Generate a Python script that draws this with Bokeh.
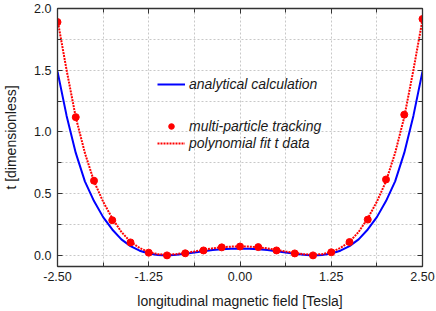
from bokeh.plotting import figure
from bokeh.models import (FixedTicker, LinearAxis, Legend, LegendItem,
                          NumeralTickFormatter, Range1d)
from bokeh.embed import file_html
from bokeh.resources import INLINE

# ---------------- data ----------------
# multi-particle tracking points
x_track = [-2.5, -2.25, -2.0, -1.75, -1.5, -1.25, -1.0, -0.75, -0.5, -0.25, 0.0,
           0.25, 0.5, 0.75, 1.0, 1.25, 1.5, 1.75, 2.0, 2.25, 2.5]
t_track = [1.89, 1.12, 0.605, 0.285, 0.105, 0.022, 0.0, 0.017, 0.04, 0.065, 0.072,
           0.067, 0.04, 0.016, 0.0, 0.025, 0.108, 0.29, 0.615, 1.14, 1.915]

# sampled curves
x_curve = [-2.5, -2.375, -2.25, -2.125, -2.0, -1.875, -1.75, -1.625, -1.5, -1.375,
           -1.25, -1.125, -1.0, -0.875, -0.75, -0.625, -0.5, -0.375, -0.25, -0.125,
           0.0, 0.125, 0.25, 0.375, 0.5, 0.625, 0.75, 0.875, 1.0, 1.125,
           1.25, 1.375, 1.5, 1.625, 1.75, 1.875, 2.0, 2.125, 2.25, 2.375, 2.5]
t_analytic = [1.49, 1.13, 0.83, 0.60, 0.44, 0.31, 0.21, 0.13, 0.075, 0.038,
              0.015, 0.004, 0.0, 0.005, 0.014, 0.024, 0.034, 0.043, 0.049, 0.053,
              0.054, 0.053, 0.049, 0.043, 0.034, 0.024, 0.014, 0.005, 0.0, 0.004,
              0.015, 0.038, 0.075, 0.13, 0.21, 0.31, 0.44, 0.60, 0.83, 1.13, 1.49]
t_fit = [1.91, 1.50, 1.12, 0.83, 0.60, 0.435, 0.30, 0.19, 0.11, 0.06,
         0.027, 0.01, 0.006, 0.01, 0.02, 0.032, 0.045, 0.057, 0.066, 0.071,
         0.072, 0.071, 0.066, 0.057, 0.045, 0.032, 0.02, 0.01, 0.006, 0.01,
         0.027, 0.06, 0.11, 0.19, 0.30, 0.435, 0.60, 0.83, 1.12, 1.50, 1.91]

# ticks
x_major = [-2.5, -1.25, 0.0, 1.25, 2.5]
x_minor = [-1.875, -0.625, 0.625, 1.875]
y_major = [0.0, 0.5, 1.0, 1.5, 2.0]
y_minor = [0.25, 0.75, 1.25, 1.75]

FONT = "Liberation Sans"

p = figure(width=436, height=311, output_backend="svg", toolbar_location=None,
           x_range=Range1d(-2.5, 2.5), y_range=Range1d(-0.09, 2.0),
           min_border_left=54, min_border_right=14, min_border_top=8,
           min_border_bottom=44, background_fill_color="white",
           border_fill_color="white")
p.outline_line_color = "#222222"
p.outline_line_width = 1

xt = FixedTicker(ticks=x_major, minor_ticks=x_minor)
yt = FixedTicker(ticks=y_major, minor_ticks=y_minor)

p.xaxis.ticker = xt
p.yaxis.ticker = yt
p.xaxis.formatter = NumeralTickFormatter(format="0.00")
p.yaxis.formatter = NumeralTickFormatter(format="0.0")

for ax in (p.xaxis[0], p.yaxis[0]):
    ax.major_tick_in = 5
    ax.major_tick_out = 0
    ax.minor_tick_in = 4
    ax.minor_tick_out = 0
    ax.axis_line_color = "#333333"
    ax.axis_line_width = 1.3
    ax.major_tick_line_color = "#333333"
    ax.minor_tick_line_color = "#333333"
    ax.major_label_text_font = FONT
    ax.major_label_text_font_size = "12.5px"
    ax.major_label_text_color = "#1a1a1a"
    ax.axis_label_text_font = FONT
    ax.axis_label_text_font_size = "14px"
    ax.axis_label_text_font_style = "normal"
    ax.axis_label_text_color = "#1a1a1a"

p.xaxis.axis_label = "longitudinal magnetic field [Tesla]"
p.yaxis.axis_label = "t [dimensionless]"
p.xaxis.major_label_standoff = 5
p.xaxis.axis_label_standoff = 9
p.yaxis.major_label_standoff = 6
p.yaxis.axis_label_standoff = 12

# mirrored axes (ticks only)
for loc, tk, vals in (("above", xt, x_major), ("right", yt, y_major)):
    a = LinearAxis(ticker=tk)
    a.major_tick_in = 5
    a.major_tick_out = 0
    a.minor_tick_in = 4
    a.minor_tick_out = 0
    a.axis_line_color = "#333333"
    a.axis_line_width = 1.3
    a.major_tick_line_color = "#333333"
    a.minor_tick_line_color = "#333333"
    a.major_label_overrides = {v: "" for v in vals}
    a.major_label_standoff = 0
    p.add_layout(a, loc)

for g in (p.xgrid[0], p.ygrid[0]):
    g.grid_line_color = "#c8c8c8"
    g.grid_line_dash = "2 2"
    g.grid_line_width = 1
    g.minor_grid_line_color = "#c8c8c8"
    g.minor_grid_line_dash = "2 2"
    g.minor_grid_line_width = 1
p.xgrid.ticker = xt
p.ygrid.ticker = yt

r_blue = p.line(x_curve, t_analytic, line_color="#0000ff", line_width=2)
r_fit = p.line(x_curve, t_fit, line_color="#ff0000", line_width=2, line_dash="2 1")
r_pts = p.scatter(x_track, t_track, size=7, fill_color="#ff0000", line_color="#ff0000")


def style_legend(lg):
    lg.label_text_font = FONT
    lg.label_text_font_style = "italic"
    lg.label_text_font_size = "14px"
    lg.label_text_color = "#1a1a1a"
    lg.glyph_width = 28
    lg.glyph_height = 14
    lg.label_height = 14
    lg.label_standoff = 4
    lg.spacing = 1
    lg.padding = 0
    lg.margin = 0
    lg.border_line_alpha = 0
    lg.background_fill_alpha = 0


leg1 = Legend(items=[LegendItem(label="analytical calculation", renderers=[r_blue])],
              location=(100, 174))
leg2 = Legend(items=[LegendItem(label="multi-particle tracking", renderers=[r_pts]),
                     LegendItem(label="polynomial fit t data", renderers=[r_fit])],
              location=(100, 115))
style_legend(leg1)
style_legend(leg2)
p.add_layout(leg1)
p.add_layout(leg2)

open("out.html", "w").write(file_html(p, INLINE))
